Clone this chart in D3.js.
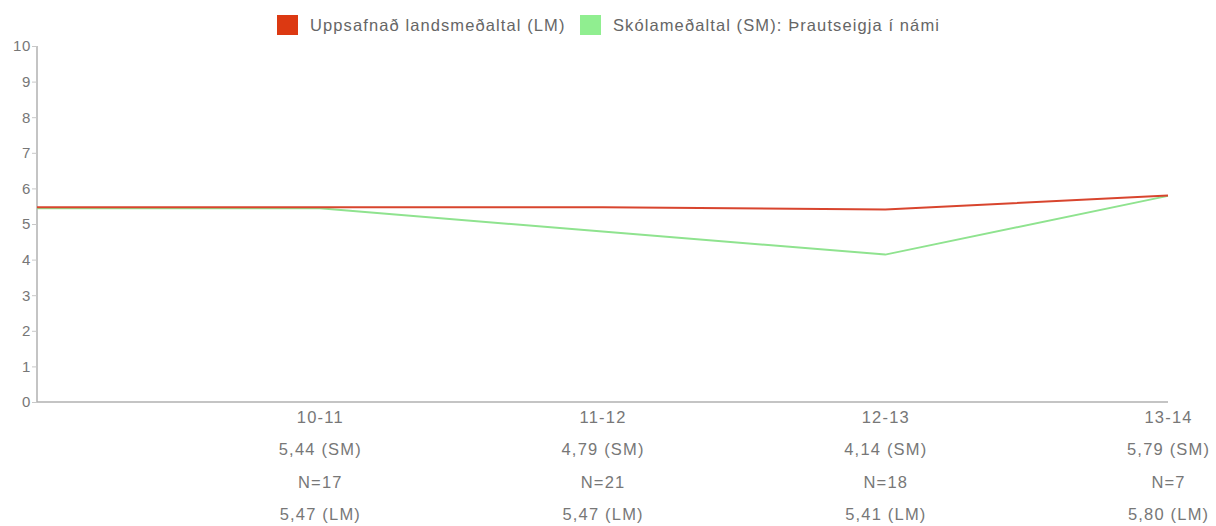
<!DOCTYPE html>
<html><head><meta charset="utf-8">
<script src="https://cdn.jsdelivr.net/npm/d3@7"></script>
<style>
html,body{margin:0;padding:0;background:#fff;}
svg{display:block;font-family:"Liberation Sans",Arial,Helvetica,sans-serif;}
</style></head>
<body>
<svg id="c" width="1216" height="526"></svg>
<script>
const categories = ["10-11","11-12","12-13","13-14"];
const schoolAvg = [5.44,4.79,4.14,5.79];
const nationalAvg = [5.47,5.47,5.41,5.80];
const counts = [17,21,18,7];
const yTicks = [0,1,2,3,4,5,6,7,8,9,10];
const seriesNames = ["Uppsafnað landsmeðaltal (LM)","Skólameðaltal (SM): Þrautseigja í námi"];
const fmt = v => v.toFixed(2).replace(".", ",");

const svg = d3.select("#c");
const x = d3.scaleLinear().domain([0, categories.length]).range([37, 1168]);
const y = d3.scaleLinear().domain([0, 10]).range([402, 46]);

// y axis
const ya = svg.append("g").attr("transform","translate(37,0)")
  .call(d3.axisLeft(y).tickValues(yTicks).tickSize(5).tickPadding(1));
ya.select(".domain").attr("stroke","#b0b0b0").attr("stroke-width",1.5).attr("d","M0,46V402");
ya.selectAll(".tick line").attr("stroke","#c8c8c8");
ya.selectAll(".tick text").attr("fill","#777").attr("font-size",15)
  .attr("letter-spacing","0.6px")
  .attr("font-family","Liberation Sans, Arial, sans-serif");

// x axis
svg.append("line").attr("x1",37).attr("x2",x(categories.length)).attr("y1",402).attr("y2",402)
  .attr("stroke","#b0b0b0").attr("stroke-width",1.5);

// x labels
const lab = svg.append("g").attr("fill","#777").attr("font-size",16.5)
  .attr("letter-spacing","1.2px").attr("text-anchor","middle");
categories.forEach((c,i)=>{
  const cx = x(i+1);
  const rows = [c, fmt(schoolAvg[i])+" (SM)", "N="+counts[i], fmt(nationalAvg[i])+" (LM)"];
  rows.forEach((t,r)=>{
    lab.append("text").attr("x",cx+0.6).attr("y",423+r*32.3).text(t);
  });
});

// lines (lead point at x=0 repeats first value)
const line = d3.line().x(d=>x(d[0])).y(d=>y(d[1]));
const pts = arr => [[0,arr[0]]].concat(arr.map((v,i)=>[i+1,v]));
svg.append("path").datum(pts(schoolAvg)).attr("d",line).attr("fill","none")
  .attr("stroke","#8fe38f").attr("stroke-width",2);
svg.append("path").datum(pts(nationalAvg)).attr("d",line).attr("fill","none")
  .attr("stroke","#d8452e").attr("stroke-width",2);

// legend
const lg = svg.append("g").attr("font-size",16.5).attr("fill","#666").attr("letter-spacing","1.1px");
const legendItems = [{name:seriesNames[0],color:"#dc3912",x:277},{name:seriesNames[1],color:"#90ee90",x:580}];
legendItems.forEach(d=>{
  lg.append("rect").attr("x",d.x).attr("y",15).attr("width",21).attr("height",20).attr("fill",d.color);
  lg.append("text").attr("x",d.x+33).attr("y",31).text(d.name);
});
</script>
</body></html>
